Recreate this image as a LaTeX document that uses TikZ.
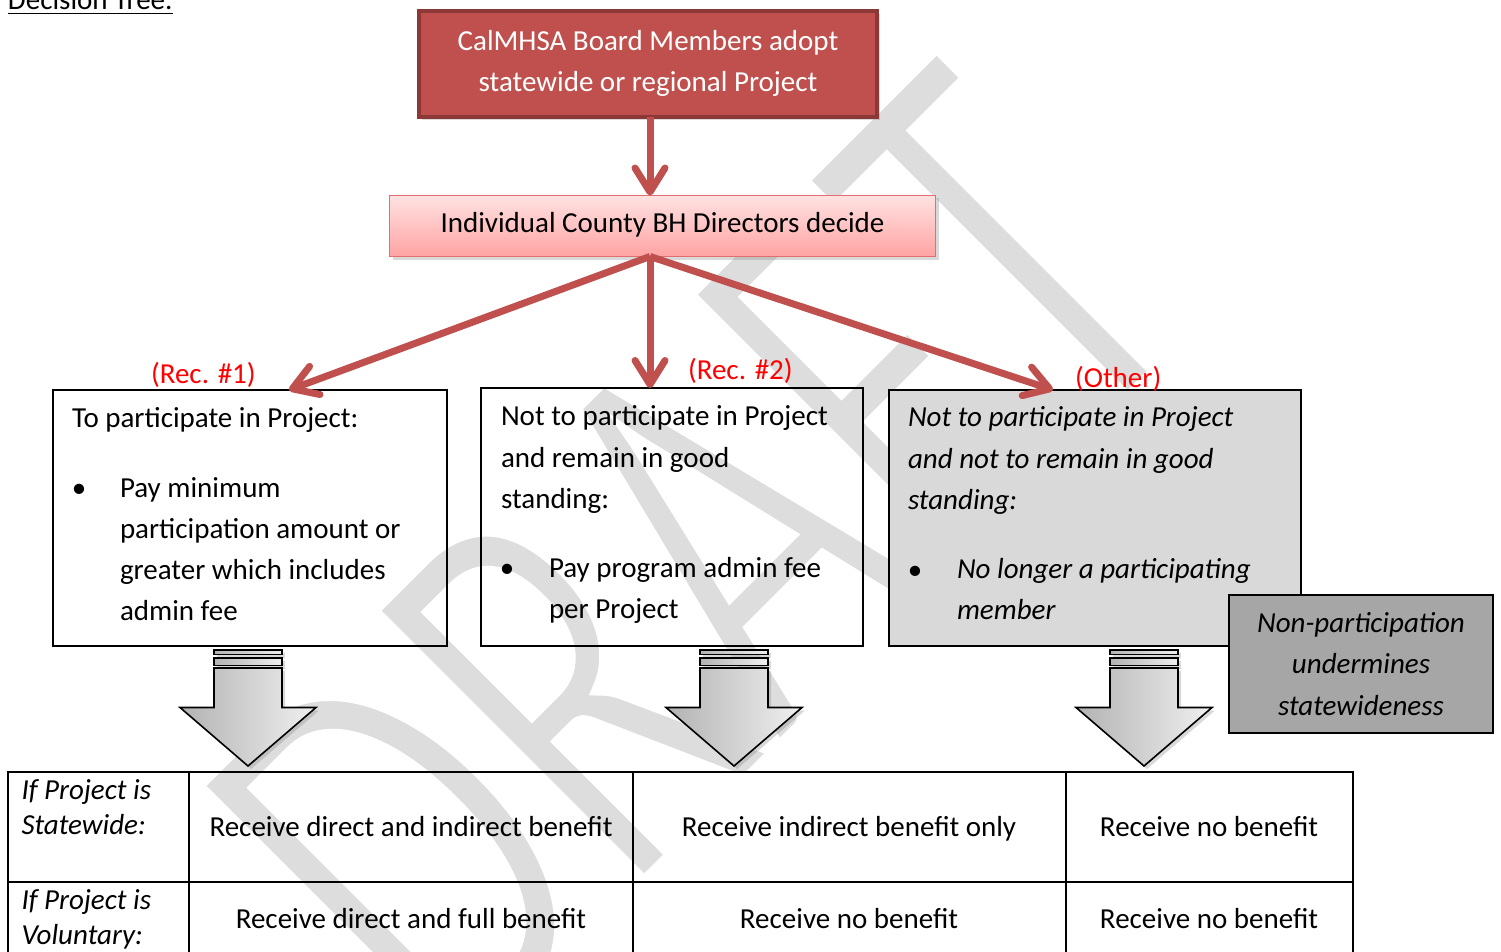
\documentclass[tikz,border=0pt]{standalone}
\usepackage{fontspec}
\setmainfont{Carlito}
\usetikzlibrary{arrows.meta,shadows,calc}
\definecolor{accred}{RGB}{192,80,77}
\definecolor{accredline}{RGB}{140,56,54}
\definecolor{pinktop}{RGB}{255,226,226}
\definecolor{pinkbot}{RGB}{255,163,163}
\definecolor{pinkline}{RGB}{226,110,110}
\definecolor{lightgrey}{RGB}{217,217,217}
\definecolor{midgrey}{RGB}{166,166,166}
\definecolor{wmgrey}{RGB}{221,221,221}
\definecolor{labelred}{RGB}{255,0,0}
\newcommand\dgfont{\fontsize{29}{35.4}\selectfont}
% thin the watermark glyphs by stroking their outline in white
\newcommand\thinglyphs[1]{\special{pdf:literal direct q 2 Tr 1 1 1 RG 9 w}#1\special{pdf:literal direct Q}}

\begin{document}
\begin{tikzpicture}[x=1pt,y=-1pt,
  txt/.style={inner sep=0pt, outer sep=0pt, font=\dgfont},
  itxt/.style={txt, font=\dgfont\itshape},
  boxframe/.style={draw=black, line width=2pt, inner sep=0pt, outer sep=0pt, anchor=north west},
  decarrow/.style={draw=accred, line width=7pt, -{Straight Barb[length=24pt,width=30pt,round]}},
  reclabel/.style={txt, text=labelred, anchor=base west},
  blockarrow/.style={draw=black, line width=1.6pt, left color=black!30, right color=black!6,
    drop shadow={shadow xshift=3pt, shadow yshift=-3pt, opacity=0.3}},
  tablerule/.style={line width=2pt},
]
\useasboundingbox (0,0) rectangle (1501,952);
\clip (0,0) rectangle (1501,952);

% watermark behind everything
\node[rotate=45, text=wmgrey, inner sep=0pt, outer sep=0pt] (wmark) at (695,560)
  {\fontsize{400}{400}\selectfont\scalebox{1}[1.5]{\thinglyphs{DRAFT}}};

% heading
\node[txt, anchor=base west] (title) at (8,10) {Decision Tree.};
\draw[line width=1.8pt] ([yshift=-3.5pt]title.base west) -- ([yshift=-3.5pt]title.base east);

% board decision
\node[draw=accredline, line width=4pt, fill=accred, inner sep=0pt, outer sep=0pt,
  minimum width=458, minimum height=106, anchor=north west,
  drop shadow={shadow xshift=3pt, shadow yshift=-3pt, opacity=0.3}] (board) at (419,11) {};
\node[txt, text=white, anchor=base] (boardA) at (648,50.5) {CalMHSA Board Members adopt};
\node[txt, text=white, anchor=base] (boardB) at (648,91.5) {statewide or regional Project};

% county decision
\node[draw=pinkline, line width=1.5pt, top color=pinktop, bottom color=pinkbot, inner sep=0pt, outer sep=0pt,
  minimum width=546, minimum height=61, anchor=north west,
  drop shadow={shadow xshift=3pt, shadow yshift=-3pt, opacity=0.3}] (dec) at (389.5,195.5) {};
\node[txt, anchor=base] (decT) at (662.5,232) {Individual County BH Directors decide};

% option 1
\node[boxframe, minimum width=394, minimum height=256] (opt1) at (53,390) {};
\node[txt, anchor=base west] (o1a) at (72,427) {To participate in Project:};
\node[txt, anchor=base] (o1b) at (79,497) {•};
\node[txt, anchor=base west] (o1c) at (120,497) {Pay minimum};
\node[txt, anchor=base west] (o1d) at (120,538) {participation amount or};
\node[txt, anchor=base west] (o1e) at (120,579) {greater which includes};
\node[txt, anchor=base west] (o1f) at (120,620) {admin fee};

% option 2
\node[boxframe, minimum width=382, minimum height=258] (opt2) at (481,388) {};
\node[txt, anchor=base west] (o2a) at (501,425) {Not to participate in Project};
\node[txt, anchor=base west] (o2b) at (501,467) {and remain in good};
\node[txt, anchor=base west] (o2c) at (501,508) {standing:};
\node[txt, anchor=base] (o2d) at (507,577) {•};
\node[txt, anchor=base west] (o2e) at (549,577) {Pay program admin fee};
\node[txt, anchor=base west] (o2f) at (549,618) {per Project};

% option 3
\node[boxframe, fill=lightgrey, minimum width=412, minimum height=256] (opt3) at (889,390) {};
\node[itxt, anchor=base west] (o3a) at (908,426) {Not to participate in Project};
\node[itxt, anchor=base west] (o3b) at (908,468) {and not to remain in good};
\node[itxt, anchor=base west] (o3c) at (908,509) {standing:};
\node[txt, anchor=base] (o3d) at (915,579) {•};
\node[itxt, anchor=base west] (o3e) at (957,578) {No longer a participating};
\node[itxt, anchor=base west] (o3f) at (957,619) {member};

% note
\node[boxframe, fill=midgrey, minimum width=264, minimum height=138] (note) at (1229,595) {};
\node[itxt, anchor=base] (noteA) at (1361,632) {Non-participation};
\node[itxt, anchor=base] (noteB) at (1361,673) {undermines};
\node[itxt, anchor=base] (noteC) at (1361,715) {statewideness};

% labels of the recommendations
\node[reclabel] (rec1) at (151,383) {(Rec. \#1)};
\node[reclabel] (rec2) at (688,379) {(Rec. \#2)};
\node[reclabel] (recO) at (1075,387) {(Other)};

% decision arrows
\coordinate (hub) at ([xshift=-12.5pt]dec.south);
\draw[decarrow] (hub |- board.south) -- (hub |- dec.north);
\draw[decarrow] (hub) -- ([xshift=39pt]opt1.north);
\draw[decarrow] (hub) -- (hub |- opt2.north);
\draw[decarrow] (hub) -- ([xshift=-42pt]opt3.north);

% block arrows down to the outcomes
\coordinate (ba1) at (248,649);
\coordinate (ba2) at (734,649);
\coordinate (ba3) at (1144,649);
\foreach \c in {ba1,ba2,ba3}{
  \begin{scope}[shift={(\c)}]
    \path[blockarrow] (-34,1) rectangle (34,5.5);
    \path[blockarrow] (-34,9) rectangle (34,16.5);
    \path[blockarrow] (-34,19) -- (-34,58.5) -- (-68,58.5) -- (0,117) -- (68,58.5) -- (34,58.5) -- (34,19) -- cycle;
  \end{scope}
}

% outcome table
\draw[tablerule] (7.5,771.5) rectangle (1352.5,990);
\draw[tablerule] (7.5,881.5) -- (1352.5,881.5);
\draw[tablerule] (188.5,771.5) -- (188.5,990);
\draw[tablerule] (633,771.5) -- (633,990);
\draw[tablerule] (1065.5,771.5) -- (1065.5,990);

\node[itxt, anchor=base west] (s1) at (21.5,799) {If Project is};
\node[itxt, anchor=base west] (s2) at (21.5,834) {Statewide:};
\node[itxt, anchor=base west] (v1) at (21.5,909) {If Project is};
\node[itxt, anchor=base west] (v2) at (21.5,944.5) {Voluntary:};

\node[txt, anchor=base] (c11) at (411,836) {Receive direct and indirect benefit};
\node[txt, anchor=base] (c12) at (849,836) {Receive indirect benefit only};
\node[txt, anchor=base] (c13) at (1209,836) {Receive no benefit};
\node[txt, anchor=base] (c21) at (411,928) {Receive direct and full benefit};
\node[txt, anchor=base] (c22) at (849,928) {Receive no benefit};
\node[txt, anchor=base] (c23) at (1209,928) {Receive no benefit};
\end{tikzpicture}
\end{document}
